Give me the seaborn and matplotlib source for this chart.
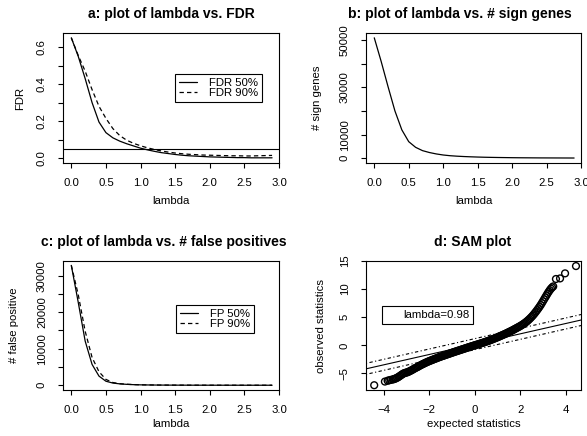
import matplotlib
matplotlib.use("Agg")
import matplotlib.pyplot as plt
from matplotlib.lines import Line2D
import seaborn as sns

# ---- data ----
lam = [0.0, 0.1, 0.2, 0.3, 0.4, 0.5, 0.6, 0.7, 0.8, 0.9,
       1.0, 1.1, 1.2, 1.3, 1.4, 1.5, 1.6, 1.7, 1.8, 1.9,
       2.0, 2.1, 2.2, 2.3, 2.4, 2.5, 2.6, 2.7, 2.8, 2.9]

fdr_50 = [0.650, 0.550, 0.430, 0.300, 0.195, 0.138, 0.110, 0.092, 0.078, 0.066,
          0.054, 0.045, 0.037, 0.030, 0.025, 0.020, 0.016, 0.013, 0.011, 0.009,
          0.007, 0.006, 0.005, 0.004, 0.003, 0.003, 0.002, 0.002, 0.002, 0.002]
fdr_90 = [0.650, 0.555, 0.470, 0.370, 0.280, 0.215, 0.160, 0.122, 0.097, 0.080,
          0.067, 0.056, 0.047, 0.039, 0.033, 0.028, 0.024, 0.021, 0.019, 0.017,
          0.016, 0.015, 0.014, 0.013, 0.013, 0.012, 0.012, 0.013, 0.014, 0.015]
fdr_cutoff = 0.05

sign_genes = [51000, 41000, 30300, 20000, 12000, 7000, 4600, 3200, 2400, 1800,
              1350, 1050, 850, 700, 580, 480, 400, 340, 290, 250,
              210, 180, 160, 140, 120, 110, 100, 90, 80, 70]

fp_50 = [32800, 22700, 12100, 5700, 2500, 1100, 600, 380, 250, 160,
         110, 80, 60, 45, 35, 28, 22, 18, 15, 12,
         10, 8, 7, 6, 5, 4, 4, 3, 3, 3]
fp_90 = [32800, 24800, 14800, 7600, 3700, 1600, 750, 420, 270, 180,
         120, 90, 65, 50, 40, 32, 26, 21, 17, 14,
         12, 10, 8, 7, 6, 5, 5, 4, 4, 4]

exp_stat = [-4.41, -3.94, -3.82, -3.75, -3.68, -3.60, -3.55, -3.50, -3.45, -3.40,
            -3.35, -3.30, -3.25, -3.20, -3.15, -3.10, -3.05, -3.00, -2.95, -2.90,
            -2.85, -2.80, -2.75, -2.70, -2.65, -2.60, -2.55, -2.50, -2.45, -2.40,
            -2.35, -2.30, -2.25, -2.20, -2.15, -2.10, -2.05, -2.00, -1.95, -1.90,
            -1.85, -1.80, -1.75, -1.70, -1.65, -1.60, -1.55, -1.50, -1.45, -1.40,
            -1.35, -1.30, -1.25, -1.20, -1.15, -1.10, -1.05, -1.00, -0.95, -0.90,
            -0.85, -0.80, -0.75, -0.70, -0.65, -0.60, -0.55, -0.50, -0.45, -0.40,
            -0.35, -0.30, -0.25, -0.20, -0.15, -0.10, -0.05, 0.00, 0.05, 0.10,
            0.15, 0.20, 0.25, 0.30, 0.35, 0.40, 0.45, 0.50, 0.55, 0.60,
            0.65, 0.70, 0.75, 0.80, 0.85, 0.90, 0.95, 1.00, 1.05, 1.10,
            1.15, 1.20, 1.25, 1.30, 1.35, 1.40, 1.45, 1.50, 1.55, 1.60,
            1.65, 1.70, 1.75, 1.80, 1.85, 1.90, 1.95, 2.00, 2.05, 2.10,
            2.15, 2.20, 2.25, 2.30, 2.35, 2.40, 2.45, 2.50, 2.55, 2.60,
            2.65, 2.70, 2.75, 2.80, 2.85, 2.90, 2.95, 3.00, 3.05, 3.10,
            3.15, 3.20, 3.25, 3.30, 3.35, 3.40, 3.45, 3.57, 3.75, 3.97,
            4.45]
obs_stat = [-7.10, -6.45, -6.30, -6.22, -6.15, -6.08, -6.02, -5.95, -5.86, -5.76,
            -5.64, -5.50, -5.36, -5.22, -5.08, -4.97, -4.90, -4.85, -4.79, -4.70,
            -4.60, -4.50, -4.39, -4.27, -4.15, -4.04, -3.94, -3.84, -3.72, -3.60,
            -3.49, -3.39, -3.29, -3.19, -3.09, -3.00, -2.91, -2.82, -2.74, -2.66,
            -2.58, -2.50, -2.42, -2.34, -2.26, -2.18, -2.10, -2.03, -1.96, -1.89,
            -1.82, -1.75, -1.68, -1.61, -1.54, -1.47, -1.40, -1.33, -1.26, -1.19,
            -1.12, -1.06, -0.99, -0.92, -0.86, -0.79, -0.72, -0.66, -0.59, -0.52,
            -0.46, -0.39, -0.32, -0.26, -0.19, -0.13, -0.06, 0.00, 0.06, 0.12,
            0.19, 0.25, 0.31, 0.38, 0.44, 0.51, 0.58, 0.65, 0.72, 0.79,
            0.86, 0.94, 1.02, 1.10, 1.18, 1.26, 1.34, 1.43, 1.51, 1.60,
            1.69, 1.78, 1.87, 1.96, 2.05, 2.15, 2.25, 2.35, 2.45, 2.55,
            2.65, 2.76, 2.87, 2.98, 3.09, 3.20, 3.31, 3.43, 3.55, 3.68,
            3.82, 3.96, 4.12, 4.28, 4.46, 4.65, 4.85, 5.06, 5.28, 5.52,
            5.77, 6.03, 6.30, 6.58, 6.87, 7.17, 7.50, 7.84, 8.18, 8.52,
            8.86, 9.20, 9.52, 9.82, 10.08, 10.30, 10.48, 11.80, 11.90, 12.80,
            14.10]
sam_slope = 0.92
sam_intercept = 0.2
delta = 0.98

# ---- style: R base graphics look ----
sns.set_style("white")
plt.rcParams['font.family'] = ['Liberation Sans', 'DejaVu Sans']
plt.rcParams['text.color'] = 'black'
plt.rcParams['axes.labelcolor'] = 'black'

W, H = 587, 436
fig = plt.figure(figsize=(W / 100, H / 100), dpi=100)
FS = 8.2
dash = (0, (3.5, 2.5))
dotdash = (0, (1, 2.2, 3, 2.2))


def add_ax(l, t, r, b):
    return fig.add_axes([l / W, 1 - b / H, (r - l) / W, (b - t) / H])


def legend(ax, handles, labels, x_px, y_px, hl=1.6, htp=1.0):
    leg = ax.legend(handles, labels, loc='upper left',
                    bbox_to_anchor=(x_px / W, 1 - y_px / H),
                    bbox_transform=fig.transFigure, fontsize=FS,
                    frameon=True, fancybox=False, framealpha=1,
                    edgecolor='black', borderpad=0.35, labelspacing=0.0,
                    handlelength=hl, handletextpad=htp, borderaxespad=0)
    leg.get_frame().set_linewidth(0.8)


def common(ax, title, tx, ty, xlabel, ylabel, xlab_y, ylab_x):
    for s in ax.spines.values():
        s.set_visible(True)
        s.set_color('black')
        s.set_linewidth(0.8)
    ax.tick_params(which='both', direction='out', length=3.6, width=0.8,
                   color='black', labelcolor='black', labelsize=FS,
                   left=True, bottom=True)
    ax.tick_params(axis='x', which='both', pad=7)
    ax.tick_params(axis='y', which='both', pad=8, labelrotation=90)
    plt.setp(ax.get_yticklabels(), va='center')
    ax.set_xlabel(xlabel, fontsize=FS)
    ax.set_ylabel(ylabel, fontsize=FS)
    bb = ax.get_position()
    ax.xaxis.set_label_coords((bb.x0 + bb.x1) / 2, 1 - xlab_y / H, transform=fig.transFigure)
    ax.xaxis.label.set_va('center')
    ax.yaxis.set_label_coords(ylab_x / W, (bb.y0 + bb.y1) / 2, transform=fig.transFigure)
    ax.yaxis.label.set_va('center')
    fig.text(tx / W, 1 - ty / H, title, ha='center', va='baseline',
             fontsize=10, fontweight='bold')


lam_ticks = [0.0, 0.5, 1.0, 1.5, 2.0, 2.5, 3.0]
lam_labels = ['0.0', '0.5', '1.0', '1.5', '2.0', '2.5', '3.0']

# ---- a: lambda vs FDR ----
ax = add_ax(63, 33, 279, 163)
sns.lineplot(x=lam, y=fdr_50, ax=ax, color='black', linewidth=0.9)
sns.lineplot(x=lam, y=fdr_90, ax=ax, color='black', linewidth=0.9, linestyle=dash)
ax.axhline(fdr_cutoff, color='black', linewidth=0.8)
ax.set_xlim(-0.12, 3.0)
ax.set_ylim(-0.026, 0.676)
ax.set_xticks(lam_ticks)
ax.set_xticklabels(lam_labels)
ax.set_yticks([0.0, 0.2, 0.4, 0.6])
ax.set_yticklabels(['0.0', '0.2', '0.4', '0.6'])
ax.set_yticks([0.1, 0.3, 0.5], minor=True)
common(ax, 'a: plot of lambda vs. FDR', 171, 18, 'lambda', 'FDR', 201, 20)
legend(ax, [Line2D([], [], color='black', lw=0.9),
            Line2D([], [], color='black', lw=0.9, linestyle=dash)],
       ['FDR 50%', 'FDR 90%'], 175, 74)

# ---- b: lambda vs # sign genes ----
ax = add_ax(366, 33, 581, 163)
sns.lineplot(x=lam, y=sign_genes, ax=ax, color='black', linewidth=0.9)
ax.set_xlim(-0.12, 3.0)
ax.set_ylim(-2040, 53040)
ax.set_xticks(lam_ticks)
ax.set_xticklabels(lam_labels)
ax.set_yticks([0, 10000, 30000, 50000])
ax.set_yticklabels(['0', '10000', '30000', '50000'])
ax.set_yticks([20000, 40000], minor=True)
common(ax, 'b: plot of lambda vs. # sign genes', 460, 18, 'lambda', '# sign genes', 201, 317)

# ---- c: lambda vs # false positives ----
ax = add_ax(63, 261, 279, 390)
sns.lineplot(x=lam, y=fp_50, ax=ax, color='black', linewidth=0.9)
sns.lineplot(x=lam, y=fp_90, ax=ax, color='black', linewidth=0.9, linestyle=dash)
ax.set_xlim(-0.12, 3.0)
ax.set_ylim(-1300, 34000)
ax.set_xticks(lam_ticks)
ax.set_xticklabels(lam_labels)
ax.set_yticks([0, 10000, 20000, 30000])
ax.set_yticklabels(['0', '10000', '20000', '30000'])
ax.set_yticks([5000, 15000, 25000], minor=True)
common(ax, 'c: plot of lambda vs. # false positives', 164, 246, 'lambda', '# false positive', 424, 14)
legend(ax, [Line2D([], [], color='black', lw=0.9),
            Line2D([], [], color='black', lw=0.9, linestyle=dash)],
       ['FP 50%', 'FP 90%'], 176, 305)

# ---- d: SAM plot ----
ax = add_ax(366, 261, 581, 390)
sns.scatterplot(x=exp_stat, y=obs_stat, ax=ax, marker='o', s=24,
                facecolor='none', edgecolor='black', linewidth=1.0)
ax.axline((0, sam_intercept), slope=sam_slope, color='black', linewidth=0.8)
ax.axline((0, sam_intercept + delta), slope=sam_slope, color='black',
          linewidth=0.8, linestyle=dotdash)
ax.axline((0, sam_intercept - delta), slope=sam_slope, color='black',
          linewidth=0.8, linestyle=dotdash)
ax.set_xlim(-4.77, 4.67)
ax.set_ylim(-7.95, 14.95)
ax.set_xticks([-4, -2, 0, 2, 4])
ax.set_yticks([-5, 0, 5, 10, 15])
common(ax, 'd: SAM plot', 473, 246, 'expected statistics', 'observed statistics', 424, 321)
legend(ax, [Line2D([], [], linestyle='none')], ['lambda=%.2f' % delta],
       382, 306, hl=1.0, htp=0.5)

fig.savefig('out.png', dpi=100)
